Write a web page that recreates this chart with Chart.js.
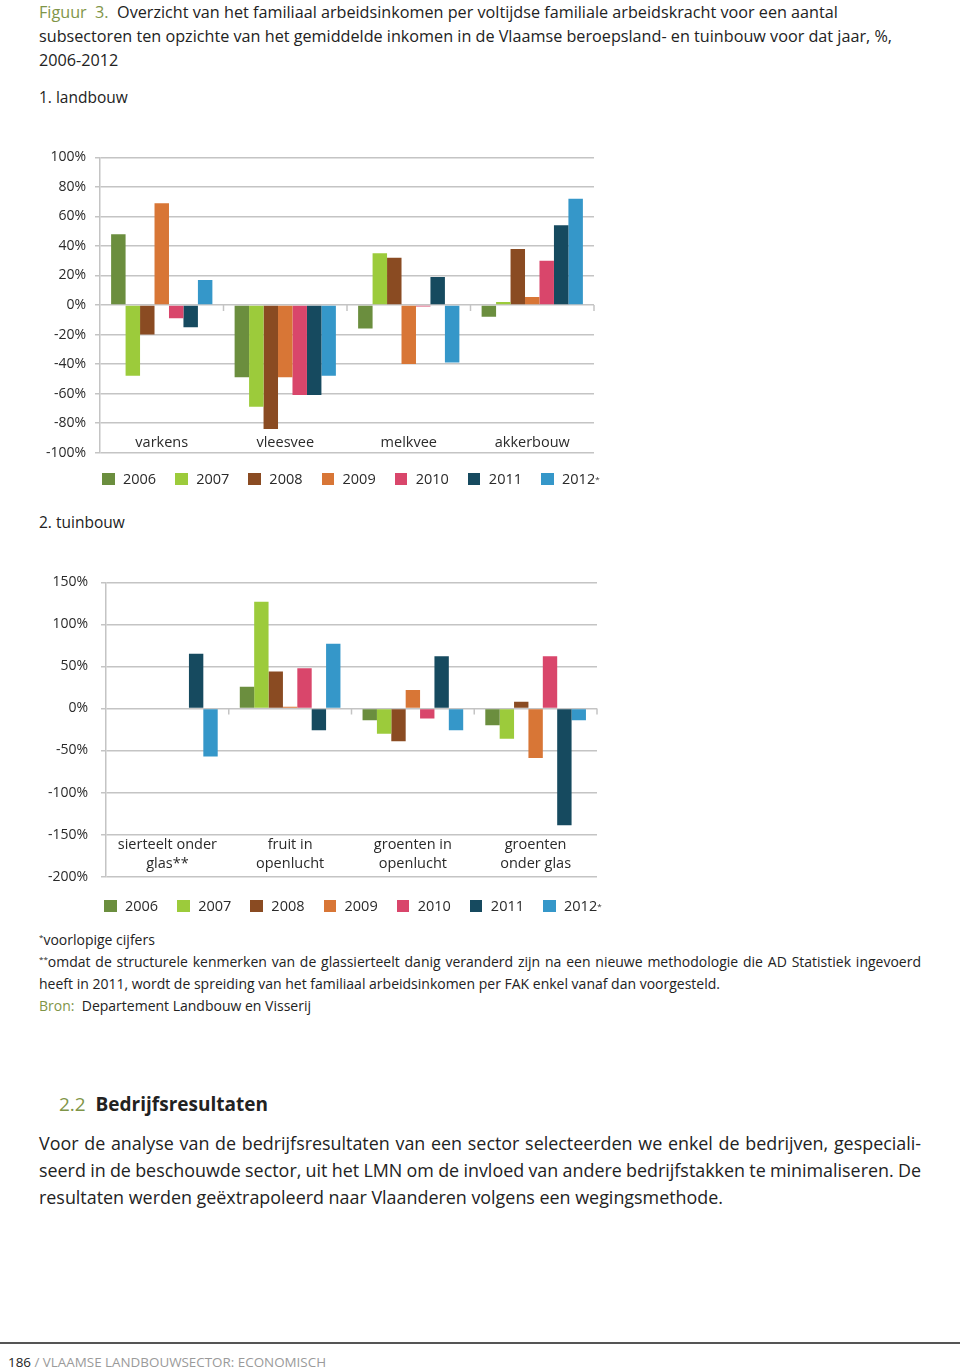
<!DOCTYPE html>
<html>
<head>
<meta charset="utf-8">
<script src="https://cdn.jsdelivr.net/npm/chart.js@4.4.1/dist/chart.umd.min.js"></script>
<style>
  body { margin: 0; background: #fff; width: 960px; height: 1370px; position: relative; font-family: "Open Sans", sans-serif; color: #222; overflow: hidden; }
  .abs { position: absolute; white-space: nowrap; }
  .green { color: #7f9548; }
  .title { left: 39px; top: 0; font-size: 16.2px; line-height: 24px; }
  .sub { left: 39px; font-size: 15.5px; }
  .note { left: 39px; width: 882px; font-size: 14px; line-height: 22px; top: 929px; }
  .just { text-align: justify; text-align-last: justify; }
  sup { font-size: 8px; line-height: 0; vertical-align: 5px; }
  .para { left: 39px; width: 882px; font-size: 17.9px; line-height: 27px; top: 1130px; }
  .para .just { word-spacing: -0.6px; }
  .rule { left: 0; top: 1342px; width: 960px; height: 2px; background: #555; }
  .foot { left: 8px; top: 1353px; font-size: 13.4px; color: #9a9a9a; }
  .wrap { position: absolute; left: 0; }
  .legend { position: absolute; display: flex; font-size: 14.5px; line-height: 14px; color: #2a2a2a; }
  .legend .item { display: flex; align-items: center; margin-right: 19px; }
  .legend .box { width: 12.5px; height: 12.5px; margin-right: 8.5px; }
</style>
</head>
<body>
<div class="abs title">
  <div><span class="green">Figuur&nbsp; 3.</span>&nbsp; Overzicht van het familiaal arbeidsinkomen per voltijdse familiale arbeidskracht voor een aantal</div>
  <div>subsectoren ten opzichte van het gemiddelde inkomen in de Vlaamse beroepsland- en tuinbouw voor dat jaar, %,</div>
  <div>2006-2012</div>
</div>
<div class="abs sub" style="top:86px">1. landbouw</div>
<div class="wrap" style="top:140px; width:694px; height:330px"><canvas id="landbouw"></canvas></div>
<div class="legend" id="legend1" style="left:102px; top:472px"></div>
<div class="abs sub" style="top:511px">2. tuinbouw</div>
<div class="wrap" style="top:561px; width:702px; height:337px"><canvas id="tuinbouw"></canvas></div>
<div class="legend" id="legend2" style="left:104px; top:899px"></div>

<div class="abs note">
  <div><sup>*</sup>voorlopige cijfers</div>
  <div class="just"><sup>**</sup>omdat de structurele kenmerken van de glassierteelt danig veranderd zijn na een nieuwe methodologie die AD Statistiek ingevoerd</div>
  <div>heeft in 2011, wordt de spreiding van het familiaal arbeidsinkomen per FAK enkel vanaf dan voorgesteld.</div>
  <div><span class="green">Bron:</span>&nbsp; Departement Landbouw en Visserij</div>
</div>

<div class="abs" style="left:59px; top:1091px; font-size:19px; font-weight:bold;"><span class="green" style="font-weight:normal">2.2</span>&nbsp; Bedrijfsresultaten</div>
<div class="abs para">
  <div class="just">Voor de analyse van de bedrijfsresultaten van een sector selecteerden we enkel de bedrijven, gespeciali-</div>
  <div class="just">seerd in de beschouwde sector, uit het LMN om de invloed van andere bedrijfstakken te minimaliseren. De</div>
  <div>resultaten werden geëxtrapoleerd naar Vlaanderen volgens een wegingsmethode.</div>
</div>
<div class="abs rule"></div>
<div class="abs foot"><span style="color:#222">186</span> / VLAAMSE LANDBOUWSECTOR: ECONOMISCH</div>

<script>
const years = ['2006', '2007', '2008', '2009', '2010', '2011', '2012'];
const yearColors = ['#6b8e3e', '#9ccb3b', '#8a4b22', '#d87636', '#d9466b', '#164a5f', '#3597c9'];

// 1. landbouw
const landbouwCategories = ['varkens', 'vleesvee', 'melkvee', 'akkerbouw'];
const lb2006 = [48, -49, -16, -8];
const lb2007 = [-48, -69, 35, 2];
const lb2008 = [-20, -84, 32, 38];
const lb2009 = [69, -49, -40, 5.5];
const lb2010 = [-9, -61, -1, 30];
const lb2011 = [-15, -61, 19, 54];
const lb2012 = [17, -48, -39, 72];

// 2. tuinbouw
const tuinbouwCategories = [['sierteelt onder', 'glas**'], ['fruit in', 'openlucht'], ['groenten in', 'openlucht'], ['groenten', 'onder glas']];
const tb2006 = [null, 26, -14, -20];
const tb2007 = [null, 127, -30, -36];
const tb2008 = [null, 44, -39, 8];
const tb2009 = [null, 2, 22, -59];
const tb2010 = [null, 48, -12, 62];
const tb2011 = [65, -26, 62, -139];
const tb2012 = [-57, 77, -26, -14];

const gridColor = '#c4c4c4';
const textColor = '#2a2a2a';
Chart.defaults.font.family = '"Open Sans", sans-serif';
Chart.defaults.color = textColor;

// small tick marks on the zero line between the categories
const zeroTicks = {
    id: 'zeroTicks',
    afterDatasetsDraw(chart) {
        const x = chart.scales.x;
        const y0 = chart.scales.y.getPixelForValue(0);
        const n = chart.data.labels.length;
        const ctx = chart.ctx;
        ctx.save();
        ctx.strokeStyle = gridColor;
        ctx.lineWidth = 1.5;
        for (let i = 1; i <= n; i++) {
            const px = x.left + (x.right - x.left) * i / n;
            ctx.beginPath();
            ctx.moveTo(px, y0);
            ctx.lineTo(px, y0 + 6);
            ctx.stroke();
        }
        ctx.restore();
    }
};

// category names sit inside the plot, just above the lowest gridline
const categoryLabels = {
    id: 'categoryLabels',
    afterDraw(chart, args, opts) {
        const x = chart.scales.x;
        const ctx = chart.ctx;
        ctx.save();
        ctx.font = '14.5px "Open Sans", sans-serif';
        ctx.fillStyle = textColor;
        ctx.textAlign = 'center';
        ctx.textBaseline = 'middle';
        chart.data.labels.forEach((label, i) => {
            const lines = [].concat(label);
            const px = x.getPixelForValue(i);
            lines.forEach((line, j) => {
                const py = chart.chartArea.bottom - opts.gap - (lines.length - 1 - j) * opts.lineHeight;
                ctx.fillText(line, px, py);
            });
        });
        ctx.restore();
    }
};

function buildLegend(id) {
    const el = document.getElementById(id);
    years.forEach((year, i) => {
        const item = document.createElement('div');
        item.className = 'item';
        item.innerHTML = '<span class="box" style="background:' + yearColors[i] + '"></span>' + year +
            (i === years.length - 1 ? '<sup>*</sup>' : '');
        el.appendChild(item);
    });
}

function makeChart(id, labels, series, yMin, yMax, step, axisWidth, padRight, tickPad, labelGap) {
    const ctx = document.getElementById(id).getContext('2d');
    return new Chart(ctx, {
        type: 'bar',
        data: {
            labels: labels,
            datasets: series.map((values, i) => ({
                label: years[i],
                data: values,
                backgroundColor: yearColors[i],
                borderWidth: 0,
                categoryPercentage: 0.82,
                barPercentage: 1.0
            }))
        },
        options: {
            responsive: true,
            maintainAspectRatio: false,
            animation: false,
            layout: { padding: { top: 0, right: padRight, bottom: 0, left: 0 } },
            scales: {
                x: { display: false },
                y: {
                    min: yMin,
                    max: yMax,
                    afterFit: s => { s.width = axisWidth; },
                    grid: { color: gridColor, lineWidth: 1.5, tickLength: 5 },
                    border: { display: true, color: gridColor, width: 1.5 },
                    ticks: {
                        stepSize: step,
                        padding: tickPad,
                        font: { size: 14 },
                        color: textColor,
                        callback: v => v + '%'
                    }
                }
            },
            plugins: {
                legend: { display: false },
                tooltip: { enabled: false },
                categoryLabels: { gap: labelGap, lineHeight: 19 }
            }
        },
        plugins: [zeroTicks, categoryLabels]
    });
}

makeChart('landbouw', landbouwCategories,
    [lb2006, lb2007, lb2008, lb2009, lb2010, lb2011, lb2012],
    -100, 100, 20, 100, 100, 9, 10);
buildLegend('legend1');

makeChart('tuinbouw', tuinbouwCategories,
    [tb2006, tb2007, tb2008, tb2009, tb2010, tb2011, tb2012],
    -200, 150, 50, 106, 105, 13, 12.7);
buildLegend('legend2');
</script>
</body>
</html>
